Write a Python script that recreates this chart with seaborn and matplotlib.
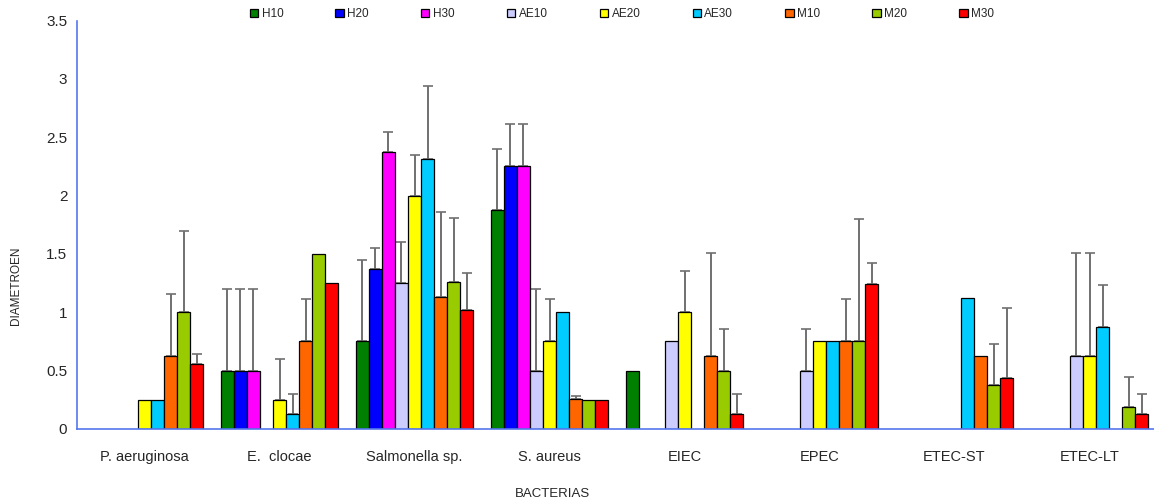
import numpy as np
import pandas as pd
import matplotlib
matplotlib.use('Agg')
import matplotlib.pyplot as plt
import seaborn as sns

# data
bacterias = ['P. aeruginosa', 'E.  clocae', 'Salmonella sp.', 'S. aureus',
             'EIEC', 'EPEC', 'ETEC-ST', 'ETEC-LT']
tratamientos = ['H10', 'H20', 'H30', 'AE10', 'AE20', 'AE30', 'M10', 'M20', 'M30']
colores = ['#008000', '#0000FF', '#FF00FF', '#CCCCFF', '#FFFF00',
           '#00CCFF', '#FF6600', '#99CC00', '#FF0000']

# rows = bacteria, columns = treatment
diametro = [
    [0, 0, 0, 0, 0.25, 0.25, 0.625, 1.0, 0.56],
    [0.5, 0.5, 0.5, 0, 0.25, 0.125, 0.75, 1.5, 1.25],
    [0.75, 1.375, 2.375, 1.25, 2.0, 2.31, 1.13, 1.26, 1.02],
    [1.875, 2.25, 2.25, 0.5, 0.75, 1.0, 0.26, 0.25, 0.25],
    [0.5, 0, 0, 0.75, 1.0, 0, 0.625, 0.5, 0.125],
    [0, 0, 0, 0.5, 0.75, 0.75, 0.75, 0.75, 1.245],
    [0, 0, 0, 0, 0, 1.125, 0.625, 0.375, 0.44],
    [0, 0, 0, 0.625, 0.625, 0.87, 0, 0.1875, 0.125],
]
error = [
    [0, 0, 0, 0, 0, 0, 0.53, 0.70, 0.08],
    [0.7, 0.7, 0.7, 0, 0.35, 0.175, 0.36, 0, 0],
    [0.7, 0.18, 0.17, 0.35, 0.35, 0.63, 0.73, 0.55, 0.32],
    [0.52, 0.36, 0.36, 0.7, 0.36, 0, 0.02, 0, 0],
    [0, 0, 0, 0, 0.35, 0, 0.88, 0.36, 0.175],
    [0, 0, 0, 0.36, 0, 0, 0.36, 1.05, 0.18],
    [0, 0, 0, 0, 0, 0, 0, 0.35, 0.6],
    [0, 0, 0, 0.88, 0.88, 0.36, 0, 0.26, 0.175],
]

rows = []
for i, b in enumerate(bacterias):
    for j, t in enumerate(tratamientos):
        rows.append({'bacteria': b, 'tratamiento': t,
                     'diametro': diametro[i][j], 'error': error[i][j]})
df = pd.DataFrame(rows)

sns.set_style('white')
plt.rcParams['font.family'] = ['Liberation Sans', 'DejaVu Sans']
axis_blue = '#5577EE'

fig = plt.figure(figsize=(11.54, 5.03), dpi=100)
ax = fig.add_axes([77 / 1154, 1 - 429 / 503, 1080 / 1154, 408.5 / 503])

sns.barplot(data=df, x='bacteria', y='diametro', hue='tratamiento',
            order=bacterias, hue_order=tratamientos, palette=colores,
            saturation=1, width=0.87, edgecolor='black', linewidth=0.9,
            errorbar=None, ax=ax)

# error bars (upward only), taken from each hue container
bar_containers = list(ax.containers)
for j, cont in enumerate(bar_containers):
    for i, bar in enumerate(cont):
        e = error[i][j]
        h = bar.get_height()
        if h == 0:
            bar.set_edgecolor('#d8dce8')
            bar.set_linewidth(0.6)
        if e > 0:
            xc = bar.get_x() + bar.get_width() / 2
            _, caps, _ = ax.errorbar(xc, h, yerr=[[0], [e]], fmt='none',
                                     ecolor='#707070', elinewidth=1.4,
                                     capsize=3.5, capthick=1.2, zorder=0.9)
            for c in caps:
                c.set_color('black')

ax.set_ylim(0, 3.5)
ax.set_xlim(-0.5, 7.5)
yt = [0, 0.5, 1, 1.5, 2, 2.5, 3, 3.5]
ax.set_yticks(yt)
ax.set_yticklabels(['0', '0.5', '1', '1.5', '2', '2.5', '3', '3.5'], fontsize=11)
ax.set_xticks(range(len(bacterias)))
ax.set_xticklabels(bacterias, fontsize=10.5)
ax.set_xticks(np.arange(-0.5, 8, 1), minor=True)
ax.tick_params(axis='x', which='major', length=0, pad=15)
ax.tick_params(axis='x', which='minor', length=5, color=axis_blue, direction='out', width=1)
ax.tick_params(axis='y', length=4, color=axis_blue, direction='out', width=1, pad=3)

for s in ['top', 'right']:
    ax.spines[s].set_visible(False)
for s in ['left', 'bottom']:
    ax.spines[s].set_color(axis_blue)
    ax.spines[s].set_linewidth(1.2)

ax.set_ylabel('DIAMETROEN', fontsize=8.5)
ax.yaxis.set_label_coords(-0.051, 0.35)
ax.set_xlabel('BACTERIAS', fontsize=9.5)
ax.xaxis.set_label_coords(0.44, -0.145)

handles, labels = ax.get_legend_handles_labels()
ax.get_legend().remove()
fig.legend(handles, labels, loc='upper center', bbox_to_anchor=(0.539, 1.005),
           ncol=9, frameon=False, fontsize=8.5, handlelength=0.7,
           handleheight=0.7, handletextpad=0.3, columnspacing=4.42)

fig.savefig('out.png', dpi=100)
